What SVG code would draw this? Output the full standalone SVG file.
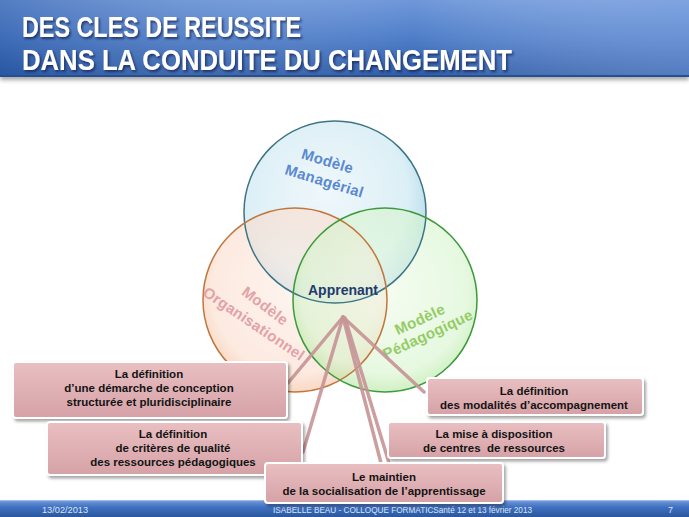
<svg xmlns="http://www.w3.org/2000/svg" width="689" height="517" viewBox="0 0 689 517">
<defs>
<linearGradient id="titleG" x1="0" y1="0" x2="0" y2="1">
<stop offset="0" stop-color="#6f98da"/>
<stop offset="0.5" stop-color="#4e7dc8"/>
<stop offset="1" stop-color="#2c5aa6"/>
</linearGradient>
<linearGradient id="titleH" x1="0" y1="0" x2="1" y2="0">
<stop offset="0" stop-color="#1f4c98" stop-opacity="0.35"/>
<stop offset="0.6" stop-color="#ffffff" stop-opacity="0"/>
<stop offset="1" stop-color="#9ab8ec" stop-opacity="0.35"/>
</linearGradient>
<linearGradient id="footG" x1="0" y1="0" x2="0" y2="1">
<stop offset="0" stop-color="#6a95d8"/>
<stop offset="0.4" stop-color="#3f6fbf"/>
<stop offset="1" stop-color="#2a579f"/>
</linearGradient>
<radialGradient id="gBlue" cx="0.45" cy="0.4" r="0.6">
<stop offset="0" stop-color="#eaf5f9"/>
<stop offset="0.75" stop-color="#d0eaf3"/>
<stop offset="1" stop-color="#9ccfe2"/>
</radialGradient>
<radialGradient id="gOrange" cx="0.5" cy="0.45" r="0.6">
<stop offset="0" stop-color="#fdece4"/>
<stop offset="0.75" stop-color="#fbdccc"/>
<stop offset="1" stop-color="#f2b084"/>
</radialGradient>
<radialGradient id="gGreen" cx="0.5" cy="0.45" r="0.6">
<stop offset="0" stop-color="#eefbe8"/>
<stop offset="0.75" stop-color="#d6f4cc"/>
<stop offset="1" stop-color="#9ee086"/>
</radialGradient>
<linearGradient id="boxG" x1="0" y1="0" x2="0" y2="1">
<stop offset="0" stop-color="#e9bfc2"/>
<stop offset="1" stop-color="#d5a2a6"/>
</linearGradient>
<filter id="shadow" x="-10%" y="-20%" width="125%" height="150%">
<feDropShadow dx="2" dy="2.5" stdDeviation="1.8" flood-color="#000" flood-opacity="0.35"/>
</filter>
<filter id="tshadow" x="-5%" y="-20%" width="110%" height="150%">
<feDropShadow dx="1.5" dy="2" stdDeviation="1" flood-color="#0a1f48" flood-opacity="0.7"/>
</filter>
<filter id="barShadow" x="-5%" y="-10%" width="110%" height="130%">
<feDropShadow dx="0" dy="3" stdDeviation="2" flood-color="#000" flood-opacity="0.35"/>
</filter>
</defs>
<style>
.title{font-family:"Liberation Sans",Arial,sans-serif;font-weight:bold;font-size:30px;fill:#ffffff}
.foot{font-family:"Liberation Sans",Arial,sans-serif;font-size:9px;fill:#dbe6f6}
.box rect{fill:url(#boxG);stroke:#ffffff;stroke-width:2}
.box text{font-family:"Liberation Sans",Arial,sans-serif;font-weight:bold;font-size:11.5px;fill:#141414;text-anchor:middle}
.lbl{font-family:"Liberation Sans",Arial,sans-serif;font-weight:bold;font-size:15px;text-anchor:middle;letter-spacing:0.3px}
.conn line{stroke:#c79496;stroke-width:3.5;stroke-linecap:round;opacity:0.9}
</style>
<rect x="0" y="0" width="689" height="517" fill="#ffffff"/>
<g id="title-bar">
<rect x="0" y="0" width="689" height="77" fill="url(#titleG)" filter="url(#barShadow)"/>
<rect x="0" y="0" width="689" height="77" fill="url(#titleH)"/>
<rect x="0" y="75" width="689" height="2" fill="#24508f"/>
<g filter="url(#tshadow)">
<text class="title" x="22" y="37" textLength="279" lengthAdjust="spacingAndGlyphs">DES CLES DE REUSSITE</text>
<text class="title" x="22" y="70" textLength="490" lengthAdjust="spacingAndGlyphs">DANS LA CONDUITE DU CHANGEMENT</text>
</g>
</g>
<g id="circles">
<g id="circle-managerial">
<circle cx="335" cy="212" r="91" fill="url(#gBlue)" opacity="0.75"/>
</g>
<g id="circle-organisationnel">
<circle cx="295" cy="300" r="92" fill="url(#gOrange)" opacity="0.6"/>
</g>
<g id="circle-pedagogique">
<circle cx="385" cy="300" r="92" fill="url(#gGreen)" opacity="0.6"/>
</g>
<circle cx="335" cy="212" r="91" fill="none" stroke="#3d7584" stroke-width="1.5"/>
<circle cx="295" cy="300" r="92" fill="none" stroke="#c0773f" stroke-width="1.5"/>
<circle cx="385" cy="300" r="92" fill="none" stroke="#3e9a3c" stroke-width="1.5"/>
<text class="lbl" fill="#5b8ad0" transform="translate(326,166) rotate(17)">Modèle</text>
<text class="lbl" fill="#5b8ad0" transform="translate(323,186) rotate(17)">Managérial</text>
<text class="lbl" fill="#e2a2a6" transform="translate(262,310) rotate(37)">Modèle</text>
<text class="lbl" fill="#e2a2a6" transform="translate(251,328) rotate(34)">Organisationnel</text>
<text class="lbl" fill="#94cc66" transform="translate(422,324) rotate(-25)">Modèle</text>
<text class="lbl" fill="#94cc66" transform="translate(430,339) rotate(-25)">Pédagogique</text>
<text x="343" y="295" font-family="Liberation Sans,Arial,sans-serif" font-weight="bold" font-size="14" fill="#1f3b6c" text-anchor="middle">Apprenant</text>
</g>
<g id="connectors" class="conn">
<line x1="343" y1="317" x2="288" y2="383"/>
<line x1="343" y1="317" x2="303" y2="452"/>
<line x1="343" y1="317" x2="381" y2="463"/>
<line x1="345" y1="318" x2="389" y2="463"/>
<line x1="343" y1="317" x2="424" y2="392"/>
</g>
<g id="box-demarche" class="box">
<rect x="13" y="362" width="274" height="56" rx="3" filter="url(#shadow)"/>
<text x="149" y="378">La définition</text>
<text x="149" y="392">d’une démarche de conception</text>
<text x="149" y="406">structurée et pluridisciplinaire</text>
</g>
<g id="box-criteres" class="box">
<rect x="47" y="422" width="255" height="53" rx="3" filter="url(#shadow)"/>
<text x="173" y="438">La définition</text>
<text x="173" y="452">de critères de qualité</text>
<text x="173" y="466">des ressources pédagogiques</text>
</g>
<g id="box-modalites" class="box">
<rect x="427" y="378" width="216" height="37" rx="3" filter="url(#shadow)"/>
<text x="534" y="395">La définition</text>
<text x="534" y="409">des modalités d’accompagnement</text>
</g>
<g id="box-centres" class="box">
<rect x="388" y="422" width="217" height="36" rx="3" filter="url(#shadow)"/>
<text x="494" y="438">La mise à disposition</text>
<text x="494" y="452" xml:space="preserve">de centres  de ressources</text>
</g>
<g id="footer">
<rect x="0" y="501" width="689" height="16" fill="url(#footG)"/>
<rect x="0" y="500" width="689" height="1.2" fill="#9dbbe8"/>
<text class="foot" x="42" y="513" textLength="46" lengthAdjust="spacingAndGlyphs">13/02/2013</text>
<text class="foot" x="273" y="513" textLength="259" lengthAdjust="spacingAndGlyphs">ISABELLE  BEAU  - COLLOQUE  FORMATICSanté  12 et  13 février 2013</text>
<text class="foot" x="668" y="513">7</text>
</g>
<g id="box-maintien" class="box">
<rect x="265" y="463" width="238" height="40" rx="3" filter="url(#shadow)"/>
<text x="384" y="481">Le maintien</text>
<text x="384" y="495">de la socialisation de l’apprentissage</text>
</g>
</svg>
